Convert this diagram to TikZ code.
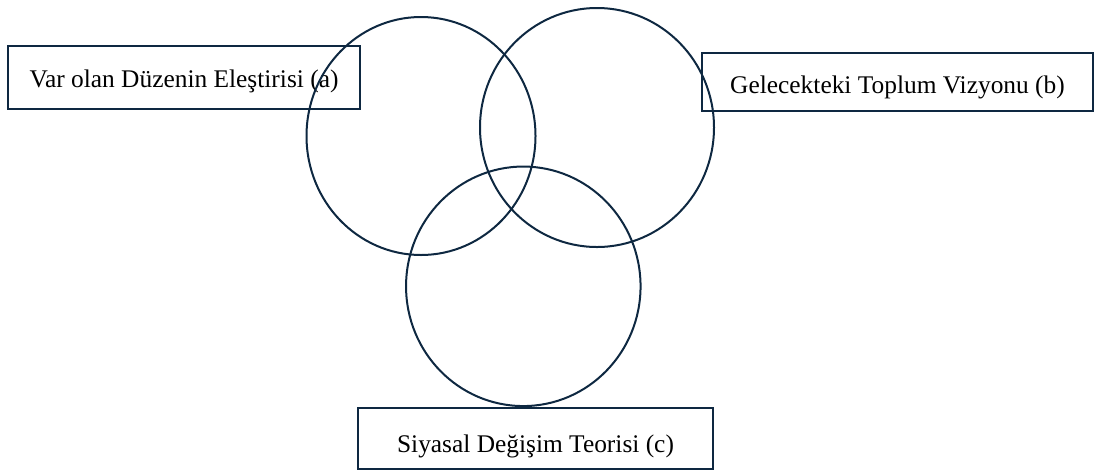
\documentclass[tikz,border=0pt]{standalone}
\usepackage{fontspec}
\setmainfont{Liberation Serif}
\usetikzlibrary{shapes}
\definecolor{ringblue}{HTML}{0E2841}

\begin{document}
\begin{tikzpicture}[x=1pt,y=-1pt,
    ring/.style={draw=ringblue,line width=2pt,ellipse,inner sep=0pt},
    tag/.style={draw=ringblue,line width=2pt,inner sep=0pt,font=\fontsize{25.4}{30}\selectfont,text height=19pt,text depth=0pt}]
                    \useasboundingbox (0,0) rectangle (1095,475);
                    \node [tag,minimum width=352pt,minimum height=63pt] (critique) at (184,77.5) {Var olan Düzenin Eleştirisi (a)};
                    \node [tag,minimum width=391pt,minimum height=58pt,text height=22pt] (vision) at (897.5,82) {Gelecekteki Toplum Vizyonu (b)};
                    \node [tag,minimum width=355pt,minimum height=61pt,text height=28pt] (theory) at (535.5,438.5) {Siyasal Değişim Teorisi (c)};
                    \node [ring,minimum width=229pt,minimum height=238pt] (ringa) at (421,136) {};
                    \node [ring,minimum width=234pt,minimum height=239pt] (ringb) at (597,127.5) {};
                    \node [ring,minimum width=234.5pt,minimum height=239.5pt] (ringc) at (523.3,286.3) {};
\end{tikzpicture}
\end{document}
